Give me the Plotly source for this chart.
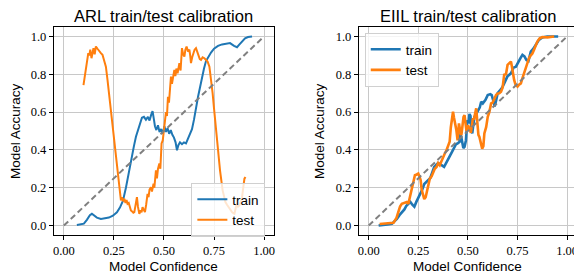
import plotly.graph_objects as go

# ---------------- data ----------------
ARL_TRAIN_CONF = [0.065, 0.085, 0.100, 0.115, 0.130, 0.140, 0.150, 0.165, 0.185, 0.205,
                  0.225, 0.245, 0.265, 0.280, 0.295, 0.310, 0.320, 0.335, 0.350, 0.360,
                  0.370, 0.380, 0.390, 0.400, 0.410, 0.420, 0.428, 0.436, 0.443, 0.450,
                  0.455, 0.462, 0.470, 0.478, 0.486, 0.494, 0.502, 0.510, 0.518, 0.526,
                  0.534, 0.542, 0.550, 0.558, 0.565, 0.572, 0.580, 0.590, 0.600, 0.610,
                  0.620, 0.630, 0.640, 0.650, 0.660, 0.670, 0.680, 0.690, 0.700, 0.710,
                  0.720, 0.735, 0.750, 0.770, 0.790, 0.810, 0.830, 0.850, 0.865, 0.875,
                  0.890, 0.905, 0.920, 0.940]
ARL_TRAIN_ACC = [0.003, 0.006, 0.010, 0.030, 0.055, 0.062, 0.055, 0.042, 0.035, 0.037,
                 0.042, 0.052, 0.070, 0.095, 0.130, 0.200, 0.260, 0.340, 0.420, 0.470,
                 0.500, 0.540, 0.570, 0.575, 0.560, 0.575, 0.555, 0.585, 0.605, 0.560,
                 0.525, 0.505, 0.530, 0.495, 0.510, 0.485, 0.525, 0.495, 0.515, 0.485,
                 0.505, 0.480, 0.465, 0.440, 0.398, 0.425, 0.440, 0.430, 0.440, 0.435,
                 0.460, 0.480, 0.510, 0.560, 0.630, 0.680, 0.730, 0.790, 0.830, 0.870,
                 0.890, 0.915, 0.935, 0.950, 0.958, 0.962, 0.965, 0.950, 0.943, 0.955,
                 0.975, 0.990, 0.997, 1.000]

ARL_TEST_CONF = [0.098, 0.104, 0.110, 0.116, 0.122, 0.127, 0.132, 0.138, 0.143, 0.148,
                 0.154, 0.160, 0.168, 0.177, 0.185, 0.193, 0.200, 0.210, 0.218, 0.227,
                 0.235, 0.243, 0.252, 0.260, 0.268, 0.277, 0.285, 0.290, 0.296, 0.302,
                 0.308, 0.313, 0.318, 0.324, 0.330, 0.335, 0.341, 0.347, 0.352, 0.358,
                 0.365, 0.370, 0.377, 0.383, 0.388, 0.393, 0.399, 0.405, 0.411, 0.418,
                 0.423, 0.428, 0.435, 0.440, 0.448, 0.452, 0.460, 0.465, 0.470, 0.477,
                 0.482, 0.488, 0.494, 0.500, 0.505, 0.510, 0.515, 0.520, 0.525, 0.530,
                 0.535, 0.540, 0.546, 0.552, 0.557, 0.562, 0.568, 0.572, 0.577, 0.583,
                 0.590, 0.596, 0.602, 0.607, 0.613, 0.620, 0.627, 0.631, 0.635, 0.641,
                 0.647, 0.653, 0.660, 0.666, 0.673, 0.679, 0.685, 0.693, 0.702, 0.710,
                 0.718, 0.727, 0.735, 0.743, 0.750, 0.757, 0.768, 0.780, 0.793, 0.807,
                 0.815, 0.823, 0.831, 0.840, 0.846, 0.852, 0.858, 0.863, 0.870, 0.877,
                 0.884, 0.890, 0.896, 0.902, 0.907]
ARL_TEST_ACC = [0.743, 0.780, 0.823, 0.870, 0.912, 0.900, 0.930, 0.885, 0.925, 0.938,
                0.905, 0.947, 0.935, 0.920, 0.912, 0.903, 0.880, 0.840, 0.770, 0.681,
                0.600, 0.522, 0.430, 0.345, 0.270, 0.203, 0.133, 0.150, 0.128, 0.142,
                0.120, 0.135, 0.115, 0.120, 0.090, 0.080, 0.075, 0.068, 0.071, 0.120,
                0.150, 0.100, 0.062, 0.080, 0.070, 0.097, 0.085, 0.071, 0.110, 0.168,
                0.150, 0.190, 0.203, 0.180, 0.221, 0.200, 0.292, 0.250, 0.300, 0.328,
                0.300, 0.434, 0.450, 0.522, 0.550, 0.600, 0.580, 0.681, 0.650, 0.752,
                0.788, 0.750, 0.800, 0.823, 0.790, 0.830, 0.805, 0.840, 0.859, 0.820,
                0.938, 0.905, 0.894, 0.930, 0.947, 0.920, 0.930, 0.900, 0.859, 0.890,
                0.912, 0.930, 0.938, 0.915, 0.903, 0.880, 0.876, 0.890, 0.885, 0.875,
                0.867, 0.840, 0.780, 0.700, 0.620, 0.540, 0.416, 0.292, 0.186, 0.124,
                0.110, 0.097, 0.080, 0.071, 0.065, 0.062, 0.090, 0.115, 0.100, 0.106,
                0.130, 0.150, 0.200, 0.248, 0.257]

EIIL_TRAIN_CONF = [0.050, 0.075, 0.095, 0.117, 0.130, 0.142, 0.155, 0.167, 0.180, 0.190,
                   0.200, 0.210, 0.220, 0.230, 0.240, 0.250, 0.260, 0.270, 0.280, 0.290,
                   0.300, 0.310, 0.320, 0.330, 0.340, 0.350, 0.360, 0.370, 0.380, 0.390,
                   0.400, 0.410, 0.420, 0.430, 0.440, 0.450, 0.458, 0.463, 0.470, 0.477,
                   0.483, 0.490, 0.497, 0.503, 0.508, 0.513, 0.518, 0.522, 0.527, 0.533,
                   0.540, 0.550, 0.560, 0.567, 0.575, 0.588, 0.600, 0.613, 0.620, 0.628,
                   0.635, 0.642, 0.650, 0.663, 0.673, 0.683, 0.700, 0.717, 0.730, 0.742,
                   0.755, 0.765, 0.775, 0.785, 0.795, 0.805, 0.817, 0.830, 0.845, 0.858,
                   0.875, 0.900, 0.925, 0.955]
EIIL_TRAIN_ACC = [0.000, 0.005, 0.006, 0.009, 0.020, 0.035, 0.055, 0.071, 0.085, 0.105,
                  0.115, 0.125, 0.110, 0.100, 0.125, 0.145, 0.165, 0.190, 0.220, 0.230,
                  0.245, 0.250, 0.280, 0.310, 0.320, 0.330, 0.325, 0.315, 0.310, 0.330,
                  0.355, 0.370, 0.390, 0.415, 0.430, 0.435, 0.443, 0.487, 0.440, 0.410,
                  0.416, 0.450, 0.557, 0.540, 0.590, 0.580, 0.500, 0.487, 0.530, 0.575,
                  0.585, 0.610, 0.625, 0.655, 0.646, 0.664, 0.690, 0.695, 0.690, 0.660,
                  0.630, 0.660, 0.700, 0.717, 0.730, 0.752, 0.790, 0.805, 0.835, 0.840,
                  0.870, 0.885, 0.903, 0.895, 0.875, 0.870, 0.920, 0.935, 0.960, 0.982,
                  0.995, 1.000, 1.000, 1.000]

EIIL_TEST_CONF = [0.055, 0.090, 0.125, 0.140, 0.150, 0.158, 0.167, 0.180, 0.192, 0.200,
                  0.208, 0.217, 0.225, 0.233, 0.242, 0.250, 0.256, 0.262, 0.267, 0.272,
                  0.280, 0.287, 0.295, 0.302, 0.308, 0.317, 0.325, 0.333, 0.342, 0.350,
                  0.358, 0.367, 0.375, 0.383, 0.392, 0.400, 0.408, 0.414, 0.420, 0.425,
                  0.430, 0.436, 0.442, 0.448, 0.455, 0.461, 0.467, 0.473, 0.478, 0.483,
                  0.488, 0.493, 0.500, 0.508, 0.515, 0.520, 0.525, 0.530, 0.538, 0.542,
                  0.548, 0.553, 0.558, 0.565, 0.572, 0.578, 0.583, 0.592, 0.600, 0.608,
                  0.617, 0.625, 0.633, 0.642, 0.650, 0.658, 0.667, 0.675, 0.683, 0.692,
                  0.700, 0.708, 0.717, 0.722, 0.727, 0.733, 0.740, 0.750, 0.758, 0.767,
                  0.775, 0.783, 0.792, 0.800, 0.808, 0.817, 0.825, 0.833, 0.842, 0.850,
                  0.862, 0.875, 0.900, 0.920, 0.935]
EIIL_TEST_ACC = [0.008, 0.010, 0.015, 0.040, 0.071, 0.100, 0.115, 0.120, 0.124, 0.115,
                 0.150, 0.186, 0.220, 0.266, 0.270, 0.275, 0.260, 0.240, 0.190, 0.168,
                 0.140, 0.150, 0.186, 0.220, 0.248, 0.260, 0.283, 0.300, 0.310, 0.330,
                 0.319, 0.345, 0.363, 0.380, 0.398, 0.420, 0.443, 0.520, 0.580, 0.602,
                 0.570, 0.540, 0.504, 0.450, 0.540, 0.500, 0.478, 0.530, 0.575, 0.584,
                 0.550, 0.500, 0.530, 0.514, 0.490, 0.540, 0.567, 0.560, 0.600, 0.620,
                 0.540, 0.480, 0.469, 0.440, 0.407, 0.420, 0.487, 0.520, 0.575, 0.600,
                 0.646, 0.650, 0.673, 0.690, 0.699, 0.700, 0.708, 0.730, 0.797, 0.800,
                 0.850, 0.860, 0.867, 0.840, 0.800, 0.770, 0.745, 0.735, 0.745, 0.752,
                 0.780, 0.805, 0.840, 0.867, 0.885, 0.900, 0.910, 0.929, 0.950, 0.973,
                 0.990, 0.997, 0.995, 0.997, 1.000]

DIAG = [0.0, 1.0]
X_TICKS = [0.0, 0.25, 0.5, 0.75, 1.0]
Y_TICKS = [0.0, 0.2, 0.4, 0.6, 0.8, 1.0]
TITLES = ["ARL train/test calibration", "EIIL train/test calibration"]

BLUE = "#1f77b4"
ORANGE = "#ff7f0e"

# the page body has an 8px margin: the figure is drawn at (8, 8)
OFF = 8
W, H = 582 - OFF, 275 - OFF


def px_x(p):
    return (p - OFF) / W


def px_y(p):
    return 1 - (p - OFF) / H


fig = go.Figure()


def add_panel(xa, ya, leg, tr_c, tr_a, te_c, te_a, lw):
    fig.add_trace(go.Scatter(x=tr_c, y=tr_a, mode="lines", name="train",
                             line=dict(color=BLUE, width=lw),
                             xaxis=xa, yaxis=ya, legend=leg))
    fig.add_trace(go.Scatter(x=te_c, y=te_a, mode="lines", name="test",
                             line=dict(color=ORANGE, width=lw),
                             xaxis=xa, yaxis=ya, legend=leg))
    fig.add_trace(go.Scatter(x=DIAG, y=DIAG, mode="lines", showlegend=False,
                             line=dict(color="#808080", width=2, dash="6px,3.5px"),
                             xaxis=xa, yaxis=ya, hoverinfo="skip"))


add_panel("x", "y", "legend", ARL_TRAIN_CONF, ARL_TRAIN_ACC, ARL_TEST_CONF, ARL_TEST_ACC, 2)
add_panel("x2", "y2", "legend2", EIIL_TRAIN_CONF, EIIL_TRAIN_ACC, EIIL_TEST_CONF, EIIL_TEST_ACC, 2.6)

tick_font = dict(family="Liberation Serif", size=12.5, color="black")
ax_common = dict(range=[-0.05, 1.05], showgrid=True, gridcolor="#c8c8c8", gridwidth=1,
                 zeroline=False, showline=True, mirror=True, linecolor="black",
                 linewidth=1, ticks="outside", ticklen=4, tickcolor="black",
                 tickfont=tick_font)

y_dom = [px_y(235), px_y(27)]
x_dom1 = [px_x(53), px_x(274)]
x_dom2 = [px_x(359), px_x(578)]

sans = "Liberation Sans"
leg_common = dict(xanchor="left", yanchor="top",
                  bgcolor="rgba(255,255,255,0.8)", bordercolor="#d0d0d0", borderwidth=1,
                  font=dict(family=sans, size=13.5, color="black"))

fig.update_layout(
    width=W, height=H,
    margin=dict(l=0, r=0, t=0, b=0),
    paper_bgcolor="white", plot_bgcolor="white",
    xaxis=dict(domain=x_dom1, anchor="y", tickvals=X_TICKS, tickformat=".2f", **ax_common),
    yaxis=dict(domain=y_dom, anchor="x", tickvals=Y_TICKS, tickformat=".1f", **ax_common),
    xaxis2=dict(domain=x_dom2, anchor="y2", tickvals=X_TICKS, tickformat=".2f", **ax_common),
    yaxis2=dict(domain=y_dom, anchor="x2", tickvals=Y_TICKS, tickformat=".1f", **ax_common),
    legend=dict(x=px_x(191), y=px_y(183), **leg_common),
    legend2=dict(x=px_x(365), y=px_y(33), **leg_common),
    showlegend=True,
)

anns = []
for i, dom in enumerate([x_dom1, x_dom2]):
    cx = (dom[0] + dom[1]) / 2
    anns.append(dict(text=TITLES[i], x=cx, y=px_y(16), xref="paper", yref="paper",
                     xanchor="center", yanchor="middle", showarrow=False,
                     font=dict(family=sans, size=16.5, color="black")))
    anns.append(dict(text="Model Confidence", x=cx, y=px_y(266), xref="paper", yref="paper",
                     xanchor="center", yanchor="middle", showarrow=False,
                     font=dict(family=sans, size=13.5, color="black")))
for lx in [14, 319]:
    anns.append(dict(text="Model Accuracy", x=px_x(lx), y=px_y(131), xref="paper", yref="paper",
                     xanchor="center", yanchor="middle", showarrow=False, textangle=-90,
                     font=dict(family=sans, size=13.5, color="black")))
fig.update_layout(annotations=anns)

fig.write_html("out.html")
